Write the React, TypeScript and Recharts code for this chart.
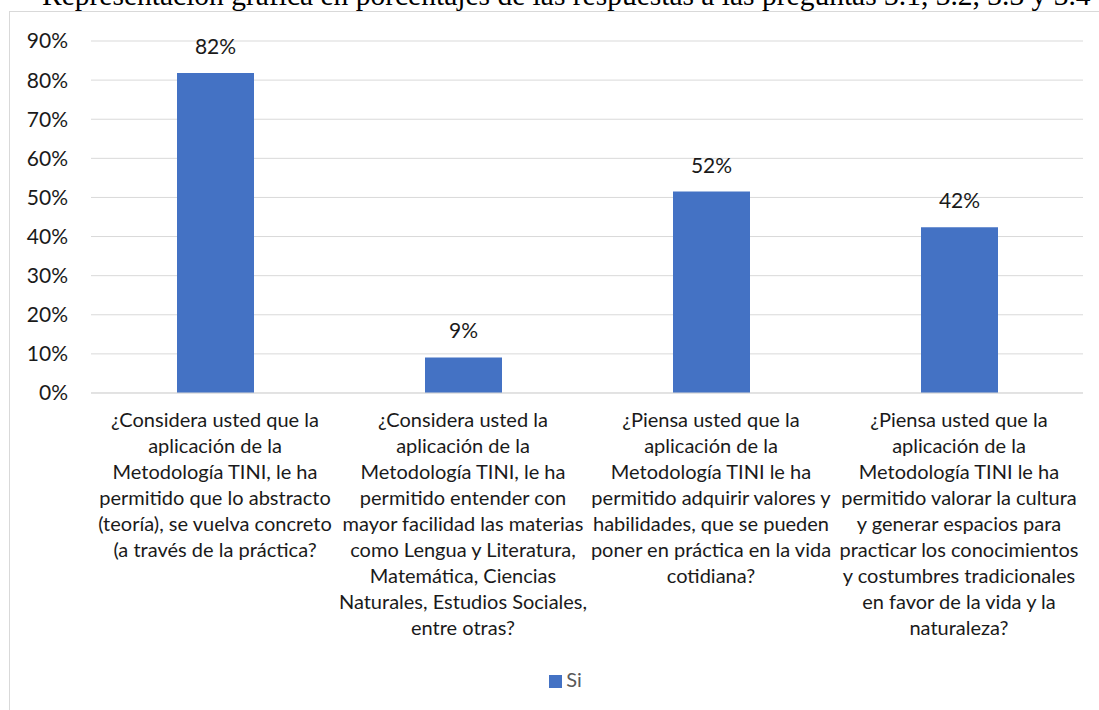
import React from "react";
import { BarChart, Bar, XAxis, YAxis, CartesianGrid, Legend, LabelList } from "recharts";

const TITLE =
  "Representación gráfica en porcentajes de las respuestas a las preguntas 3.1, 3.2, 3.3 y 3.4";

const QUESTIONS = [
  "¿Considera usted que la\naplicación de la\nMetodología TINI, le ha\npermitido que lo abstracto\n(teoría), se vuelva concreto\n(a través de la práctica?",
  "¿Considera usted la\naplicación de la\nMetodología TINI, le ha\npermitido entender con\nmayor facilidad las materias\ncomo Lengua y Literatura,\nMatemática, Ciencias\nNaturales, Estudios Sociales,\nentre otras?",
  "¿Piensa usted que la\naplicación de la\nMetodología TINI le ha\npermitido adquirir valores y\nhabilidades, que se pueden\nponer en práctica en la vida\ncotidiana?",
  "¿Piensa usted que la\naplicación de la\nMetodología TINI le ha\npermitido valorar la cultura\ny generar espacios para\npracticar los conocimientos\ny costumbres tradicionales\nen favor de la vida y la\nnaturaleza?"
];

const SI = [81.8, 9.1, 51.5, 42.4];

const Y_TICKS = [0, 10, 20, 30, 40, 50, 60, 70, 80, 90];

const data = QUESTIONS.map((q, i) => ({ q, si: SI[i] }));

const FONT = "Lato, 'Open Sans', sans-serif";

const QuestionTick = (props: any) => {
  const { x, y, payload } = props;
  const lines = String(payload.value).split("\n");
  return (
    <text x={x} y={y} textAnchor="middle" fill="#1a1a1a" fontSize={20} fontFamily={FONT}>
      {lines.map((l, i) => (
        <tspan key={i} x={x} y={y + 34 + i * 26}>
          {l}
        </tspan>
      ))}
    </text>
  );
};

export default function App() {
  return (
    <div
      style={{
        position: "fixed",
        left: 0,
        top: 0,
        width: 1099,
        height: 710,
        overflow: "hidden",
        background: "#fff"
      }}
    >
      {/* frame of the chart, runs off the page on the right and bottom */}
      <div
        style={{
          position: "absolute",
          left: 9,
          top: 11,
          width: 1200,
          height: 800,
          border: "1px solid #d9d9d9"
        }}
      />
      <div
        style={{
          position: "absolute",
          left: 42,
          top: -19,
          fontFamily: "'Liberation Serif', 'Times New Roman', serif",
          fontSize: 29.5,
          lineHeight: "29.5px",
          whiteSpace: "nowrap",
          color: "#000"
        }}
      >
        {TITLE}
      </div>
      <div style={{ position: "absolute", left: 0, top: 0 }}>
        <BarChart
          width={1099}
          height={710}
          data={data}
          margin={{ top: 41, right: 16, left: 0, bottom: 17 }}
        >
          <CartesianGrid vertical={false} stroke="#d9d9d9" />
          <XAxis
            dataKey="q"
            interval={0}
            height={300}
            tickLine={false}
            tickSize={0}
            tickMargin={0}
            axisLine={{ stroke: "#d9d9d9" }}
            tick={<QuestionTick />}
          />
          <YAxis
            domain={[0, 90]}
            ticks={Y_TICKS}
            interval={0}
            width={91}
            axisLine={false}
            tickLine={false}
            tickSize={0}
            tickMargin={23}
            tickFormatter={(v: number) => `${v}%`}
            tick={{ fill: "#1a1a1a", fontSize: 21, fontFamily: FONT }}
          />
          <Legend
            verticalAlign="middle"
            align="center"
            iconType="square"
            iconSize={13}
            wrapperStyle={{ top: 667, left: 21, width: 1099, fontFamily: FONT, fontSize: 20 }}
            formatter={(v: string) => <span style={{ color: "#595959" }}>{v}</span>}
          />
          <Bar dataKey="si" name="Si" fill="#4472C4" barSize={77} isAnimationActive={false}>
            <LabelList
              dataKey="si"
              position="top"
              offset={19}
              formatter={(v: any) => `${Math.round(Number(v))}%`}
              fill="#1a1a1a"
              fontSize={21}
              fontFamily={FONT}
            />
          </Bar>
        </BarChart>
      </div>
    </div>
  );
}
